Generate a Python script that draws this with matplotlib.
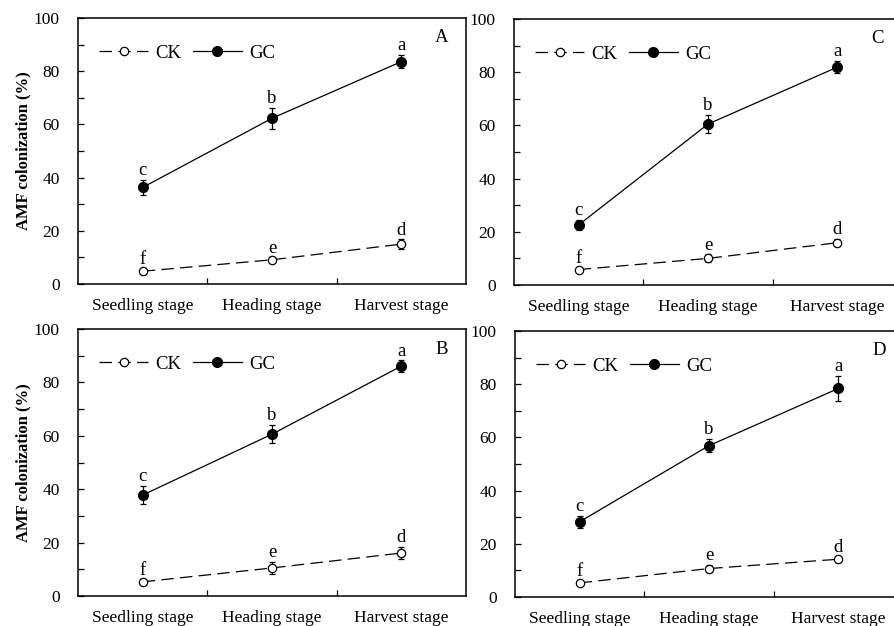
import numpy as np
import matplotlib.pyplot as plt
from matplotlib.ticker import MultipleLocator
from matplotlib.lines import Line2D

#================= Data =================

stages = ["Seedling stage", "Heading stage", "Harvest stage"]
panelNames = ["A", "C", "B", "D"]

ckA = [4.8, 9.1, 15.0]
ckErrA = [0.9, 0.9, 1.8]
gcA = [36.3, 62.3, 83.6]
gcErrA = [2.8, 4.0, 2.5]

ckC = [5.8, 10.0, 15.9]
ckErrC = [0.8, 1.5, 1.4]
gcC = [22.6, 60.5, 81.9]
gcErrC = [1.9, 3.5, 2.3]

ckB = [5.3, 10.5, 16.1]
ckErrB = [0.9, 2.2, 2.2]
gcB = [37.8, 60.6, 86.1]
gcErrB = [3.4, 3.4, 2.2]

ckD = [5.3, 10.7, 14.2]
ckErrD = [0.7, 1.3, 1.0]
gcD = [28.3, 56.9, 78.4]
gcErrD = [2.2, 2.5, 4.7]

ckLetters = ["f", "e", "d"]
gcLetters = ["c", "b", "a"]

panelData = {
    "A": (ckA, ckErrA, gcA, gcErrA),
    "C": (ckC, ckErrC, gcC, gcErrC),
    "B": (ckB, ckErrB, gcB, gcErrB),
    "D": (ckD, ckErrD, gcD, gcErrD),
}

#================= Plot =================

plt.rcParams['font.family'] = ['Liberation Serif', 'DejaVu Serif']
plt.rcParams['font.size'] = 12

fig = plt.figure(figsize=(8.95, 6.26), dpi=100)
W, H = 895.0, 626.0

# axes boxes in pixels: left, top, right, bottom
boxes = {
    "A": (78, 18, 466, 284),
    "C": (514, 19, 902, 285),
    "B": (78, 329, 466, 596),
    "D": (515, 331, 903, 597),
}

x = np.arange(len(stages))

ckStyle = dict(color='black', lw=0.9, marker='o', ms=6, mfc='white', mec='black', mew=0.9, dashes=(10, 5))
gcStyle = dict(color='black', lw=0.9, marker='o', ms=7, mfc='black', mec='black')

for name in panelNames:
    l, t, r, b = boxes[name]
    ax = fig.add_axes([l / W, (H - b) / H, (r - l) / W, (b - t) / H])
    ck, ckErr, gc, gcErr = panelData[name]

    #---- CK line (dashed, open circles) ----
    ax.errorbar(x, ck, yerr=ckErr, elinewidth=0.9, capsize=2.5, capthick=0.9,
                ecolor='black', zorder=3, **ckStyle)

    #---- GC line (solid, filled circles) ----
    ax.errorbar(x, gc, yerr=gcErr, elinewidth=0.9, capsize=2.5, capthick=0.9,
                ecolor='black', zorder=3, **gcStyle)

    #---- significance letters ----
    for i in range(len(stages)):
        ax.annotate(ckLetters[i], (x[i], ck[i] + ckErr[i]), xytext=(0, 0.5),
                    textcoords='offset points', ha='center', va='bottom', fontsize=13.5)
        ax.annotate(gcLetters[i], (x[i], gc[i] + gcErr[i]), xytext=(0, 0.5),
                    textcoords='offset points', ha='center', va='bottom', fontsize=13.5)

    ax.set_xlim(-0.5, 2.5)
    ax.set_ylim(0, 100)
    ax.yaxis.set_major_locator(MultipleLocator(20))
    ax.yaxis.set_minor_locator(MultipleLocator(10))
    ax.set_xticks([0.5, 1.5])
    ax.set_xticklabels([])
    ax.set_xticks(x, minor=True)
    ax.set_xticklabels(stages, minor=True)
    ax.tick_params(axis='x', which='major', direction='in', length=4, width=0.9)
    ax.tick_params(axis='x', which='minor', length=0, pad=10, labelsize=12.5)
    ax.tick_params(axis='y', which='both', direction='in', length=4, width=0.9,
                   labelsize=12.5, pad=13)

    for side in ['left', 'bottom', 'top', 'right']:
        ax.spines[side].set_linewidth(1.1)

    ax.text(0.938, 0.925, name, transform=ax.transAxes, ha='center', va='center', fontsize=13.5)

    handles = [Line2D([], [], **ckStyle), Line2D([], [], **gcStyle)]
    ax.legend(handles, ['CK', 'GC'], loc='center left', ncol=2, frameon=False, fontsize=13.5,
              bbox_to_anchor=(0.055, 0.868), handlelength=2.6,
              columnspacing=0.6, handletextpad=0.4, borderaxespad=0, borderpad=0)

    if name in ["A", "B"]:
        ax.set_ylabel("AMF colonization (%)", fontweight='bold', fontsize=12, labelpad=2)

plt.savefig("out.png", dpi=100)
